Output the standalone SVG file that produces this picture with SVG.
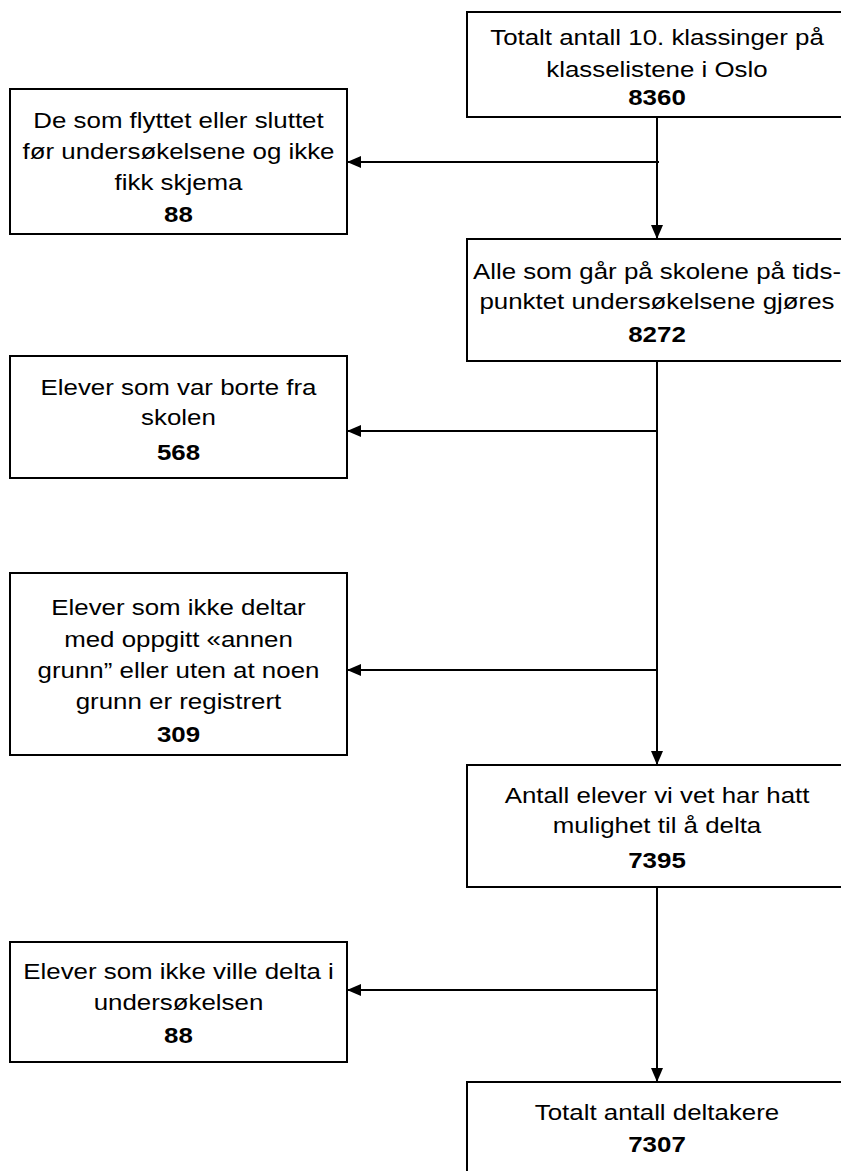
<svg xmlns="http://www.w3.org/2000/svg" width="841" height="1171" viewBox="0 0 841 1171">
<defs>
<style>
.box{fill:#fff;stroke:#000;stroke-width:2}
.t{font-family:"Liberation Sans",Arial,sans-serif;font-size:22.5px;fill:#000;text-anchor:middle}
.b{font-weight:bold}
.c{stroke:#000;stroke-width:2;fill:none}
</style>
<marker id="ah" viewBox="0 0 14 12" refX="14" refY="6" markerWidth="14" markerHeight="12" markerUnits="userSpaceOnUse" orient="auto">
<path d="M0,0 L14,6 L0,12 Z" fill="#000"/>
</marker>
</defs>
<rect width="841" height="1171" fill="#fff"/>
<g id="connectors">
<line class="c" x1="657" y1="117" x2="657" y2="239" marker-end="url(#ah)"/>
<line class="c" x1="659" y1="162" x2="347" y2="162" marker-end="url(#ah)"/>
<line class="c" x1="657" y1="361" x2="657" y2="765" marker-end="url(#ah)"/>
<line class="c" x1="657" y1="431" x2="347" y2="431" marker-end="url(#ah)"/>
<line class="c" x1="657" y1="670" x2="347" y2="670" marker-end="url(#ah)"/>
<line class="c" x1="657" y1="887" x2="657" y2="1082" marker-end="url(#ah)"/>
<line class="c" x1="657" y1="990" x2="347" y2="990" marker-end="url(#ah)"/>
</g>
<g id="n1">
<rect class="box" x="467" y="12" width="380" height="105"/>
<g transform="translate(657,0) scale(1.15,1)">
<text class="t" x="0" y="45">Totalt antall 10. klassinger på</text>
<text class="t" x="0" y="77">klasselistene i Oslo</text>
<text class="t b" x="0" y="105">8360</text>
</g>
</g>
<g id="n2">
<rect class="box" x="10" y="89" width="337" height="145"/>
<g transform="translate(178.5,0) scale(1.15,1)">
<text class="t" x="0" y="128">De som flyttet eller sluttet</text>
<text class="t" x="0" y="159">før undersøkelsene og ikke</text>
<text class="t" x="0" y="190">fikk skjema</text>
<text class="t b" x="0" y="222">88</text>
</g>
</g>
<g id="n3">
<rect class="box" x="467" y="239" width="380" height="122"/>
<g transform="translate(657,0) scale(1.15,1)">
<text class="t" x="0" y="279">Alle som går på skolene på tids-</text>
<text class="t" x="0" y="309">punktet undersøkelsene gjøres</text>
<text class="t b" x="0" y="342">8272</text>
</g>
</g>
<g id="n4">
<rect class="box" x="10" y="356" width="337" height="122"/>
<g transform="translate(178.5,0) scale(1.15,1)">
<text class="t" x="0" y="395">Elever som var borte fra</text>
<text class="t" x="0" y="425">skolen</text>
<text class="t b" x="0" y="460">568</text>
</g>
</g>
<g id="n5">
<rect class="box" x="10" y="573" width="337" height="182"/>
<g transform="translate(178.5,0) scale(1.15,1)">
<text class="t" x="0" y="615">Elever som ikke deltar</text>
<text class="t" x="0" y="647">med oppgitt «annen</text>
<text class="t" x="0" y="678">grunn” eller uten at noen</text>
<text class="t" x="0" y="709">grunn er registrert</text>
<text class="t b" x="0" y="742">309</text>
</g>
</g>
<g id="n6">
<rect class="box" x="467" y="765" width="380" height="122"/>
<g transform="translate(657,0) scale(1.15,1)">
<text class="t" x="0" y="803">Antall elever vi vet har hatt</text>
<text class="t" x="0" y="833">mulighet til å delta</text>
<text class="t b" x="0" y="868">7395</text>
</g>
</g>
<g id="n7">
<rect class="box" x="10" y="942" width="337" height="120"/>
<g transform="translate(178.5,0) scale(1.15,1)">
<text class="t" x="0" y="979">Elever som ikke ville delta i</text>
<text class="t" x="0" y="1010">undersøkelsen</text>
<text class="t b" x="0" y="1043">88</text>
</g>
</g>
<g id="n8">
<rect class="box" x="467" y="1082" width="380" height="110"/>
<g transform="translate(657,0) scale(1.15,1)">
<text class="t" x="0" y="1120">Totalt antall deltakere</text>
<text class="t b" x="0" y="1152">7307</text>
</g>
</g>
</svg>
